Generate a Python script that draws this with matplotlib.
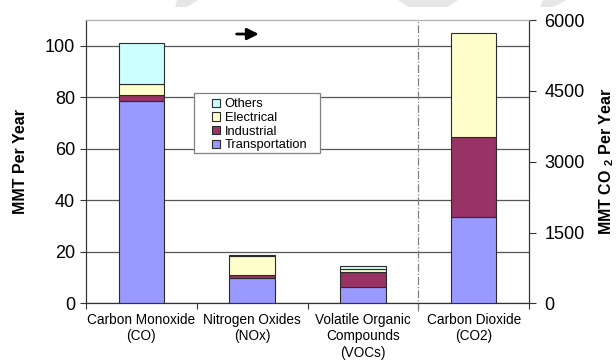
import matplotlib
matplotlib.use("Agg")
import matplotlib.pyplot as plt
from matplotlib.patches import Polygon, Rectangle
import numpy as np

plt.rcParams['font.family'] = ['Liberation Sans', 'DejaVu Sans']
plt.rcParams['mathtext.fontset'] = 'custom'
plt.rcParams['mathtext.bf'] = 'Liberation Sans:bold'
plt.rcParams['mathtext.rm'] = 'Liberation Sans'

# Pollutants on the left axis (MMT per year)
pollutants = ['Carbon Monoxide\n(CO)', 'Nitrogen Oxides\n(NOx)',
              'Volatile Organic\nCompounds\n(VOCs)']
transportation = [78.5, 10.0, 6.3]
industrial = [2.3, 1.0, 6.0]
electrical = [4.4, 7.6, 0.9]
others = [16.1, 0.4, 1.5]

# CO2 on the right axis (MMT CO2 per year)
co2_label = 'Carbon Dioxide\n(CO2)'
co2_transportation = 1830
co2_industrial = 1690
co2_electrical = 2200
co2_others = 0

sources = ['Transportation', 'Industrial', 'Electrical', 'Others']
colors = {'Transportation': '#9999FF', 'Industrial': '#993366',
          'Electrical': '#FFFFCC', 'Others': '#CCFFFF'}

left_ticks = [0, 20, 40, 60, 80, 100]
right_ticks = [0, 1500, 3000, 4500, 6000]

fig = plt.figure(figsize=(6.16, 3.6), dpi=100)
ax = fig.add_axes([0.1396, 0.157, 0.7192, 0.787])
ax2 = ax.twinx()

# faint shapes along the top edge of the page
for pts in ([(177, 0), (198, 0), (187, 7), (175, 7)],
            [(398, 0), (458, 0), (448, 7), (408, 7)],
            [(543, 0), (567, 0), (553, 7), (540, 7)]):
    xy = [(x / 616, 1 - y / 360) for x, y in pts]
    fig.patches.append(Polygon(xy, closed=True, transform=fig.transFigure,
                               facecolor='#e6e6e6', edgecolor='none', zorder=0))

x = np.arange(len(pollutants)) + 0.5
width = 0.41
edge = dict(edgecolor='#2b2b2b', linewidth=0.8, zorder=3)

stack = {'Transportation': transportation, 'Industrial': industrial,
         'Electrical': electrical, 'Others': others}
bottom = np.zeros(len(pollutants))
handles = {}
for name in sources:
    vals = np.array(stack[name])
    handles[name] = ax.bar(x, vals, width, bottom=bottom, color=colors[name],
                           label=name, **edge)
    bottom += vals

co2_stack = {'Transportation': co2_transportation, 'Industrial': co2_industrial,
             'Electrical': co2_electrical, 'Others': co2_others}
b = 0
for name in sources:
    v = co2_stack[name]
    if v > 0:
        ax2.bar([3.5], [v], width, bottom=b, color=colors[name], **edge)
    b += v

ax.set_xlim(0, 4)
ax.set_ylim(0, 110)
ax2.set_ylim(0, 6000)

ax.set_yticks(left_ticks)
ax2.set_yticks(right_ticks)
ax.yaxis.grid(True, color='#555555', linewidth=0.9, zorder=0)
ax.set_axisbelow(True)

ax.set_xticks([0, 1, 2, 3, 4])
ax.set_xticklabels([])
ax.set_xticks(list(x) + [3.5], minor=True)
ax.set_xticklabels(pollutants + [co2_label], minor=True, fontsize=9.8,
                   linespacing=1.2, va='top')
ax.tick_params(axis='x', which='minor', length=0, pad=7)
ax.tick_params(axis='x', which='major', length=4, direction='out',
               color='#333333')
ax.tick_params(axis='y', labelsize=13, length=4, color='#333333', pad=4)
ax2.tick_params(axis='y', labelsize=13, length=5, color='#333333', pad=6)

for a in (ax, ax2):
    a.spines['top'].set_color('#b0b0b0')
    a.spines['left'].set_color('#333333')
    a.spines['right'].set_color('#333333')
    a.spines['bottom'].set_color('#333333')

ax.set_ylabel('MMT Per Year', fontsize=11.5, fontweight='bold', labelpad=12)
ax2.set_ylabel(r'MMT CO $_\mathbf{2}$ Per Year', fontsize=11.5,
               fontweight='bold', labelpad=9)

# divider between the pollutants and CO2
ax.axvline(3, ymin=-0.025, ymax=1, color='#808080', linewidth=0.9,
           linestyle='-.', clip_on=False, zorder=1)

# small arrow near the top
ax.annotate('', xy=(0.39, 0.951), xytext=(0.34, 0.951),
            xycoords='axes fraction',
            arrowprops=dict(arrowstyle='-|>', color='black', lw=2.0,
                            mutation_scale=17, shrinkA=0, shrinkB=0))

# legend box drawn separately so the entries can sit indented inside it
ax2.add_patch(Rectangle((0.2438, 0.531), 0.2844, 0.2115,
                        transform=ax.transAxes, facecolor='white',
                        edgecolor='#808080', linewidth=0.9, zorder=4))
leg_order = ['Others', 'Electrical', 'Industrial', 'Transportation']
leg = ax2.legend([handles[n] for n in leg_order], leg_order,
                 loc='upper left', bbox_to_anchor=(0.284, 0.724),
                 bbox_transform=ax.transAxes, fontsize=9.3, frameon=False,
                 handlelength=0.65, handleheight=0.65, handletextpad=0.35,
                 labelspacing=0.13, borderpad=0, borderaxespad=0)
leg.set_zorder(5)

fig.savefig('out.png', dpi=100)
